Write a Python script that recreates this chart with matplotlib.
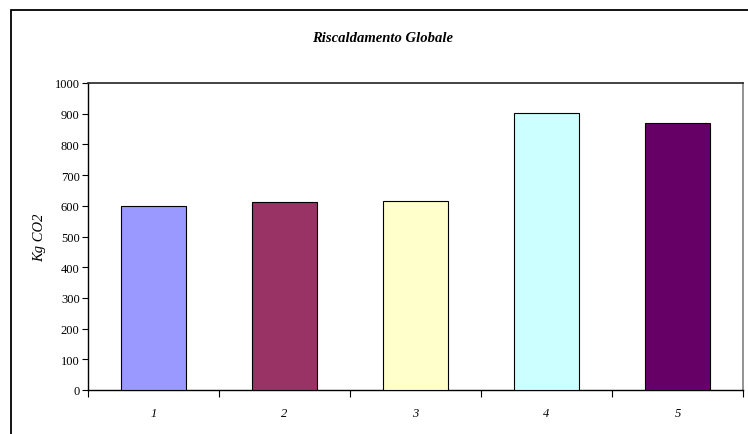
import matplotlib
matplotlib.use("Agg")
import matplotlib.pyplot as plt
from matplotlib.patches import Rectangle

categories = ["1", "2", "3", "4", "5"]
values = [600, 611, 617, 902, 870]
colors = ["#9999FF", "#993366", "#FFFFCC", "#CCFFFF", "#660066"]
yticks = [0, 100, 200, 300, 400, 500, 600, 700, 800, 900, 1000]

W, H = 748, 435
fig = plt.figure(figsize=(W / 100, H / 100), dpi=100)
fig.patch.set_facecolor("white")

# outer chart frame (runs off the right and bottom edges)
fig.add_artist(Rectangle((11 / W, -0.05), 1.2, (H - 10.5) / H + 0.05,
                         transform=fig.transFigure, fill=False,
                         edgecolor="black", linewidth=1.3))

ax = fig.add_axes([88 / W, (H - 391) / H, 655 / W, 307 / H])
x = list(range(len(categories)))
ax.bar(x, values, width=0.5, color=colors, edgecolor="black", linewidth=0.8,
       zorder=3)

ax.set_xlim(-0.5, len(categories) - 0.5)
ax.set_ylim(0, 1000)
ax.set_yticks(yticks)
ax.set_yticklabels([str(v) for v in yticks], family="Liberation Serif",
                   fontsize=9)
ax.set_xticks([i - 0.5 for i in range(len(categories) + 1)])
ax.set_xticklabels([])
ax.set_xticks(x, minor=True)
ax.set_xticklabels(categories, minor=True, family="Liberation Serif",
                   style="italic", fontsize=9)
ax.tick_params(axis="x", which="major", direction="out", length=5,
               width=0.8, color="black")
ax.tick_params(axis="x", which="minor", length=0, pad=12)
ax.tick_params(axis="y", direction="out", length=4, width=0.8, pad=2)

for side in ("left", "bottom"):
    ax.spines[side].set_color("black")
    ax.spines[side].set_linewidth(1.0)
ax.spines["top"].set_color("#222222")
ax.spines["top"].set_linewidth(1.2)
ax.spines["right"].set_color("#808080")
ax.spines["right"].set_linewidth(1.2)

ax.set_ylabel("Kg CO2", family="Liberation Serif", style="italic",
              fontsize=10.5, labelpad=6)

fig.text(383 / W, 1 - 38 / H, "Riscaldamento Globale",
         family="Liberation Serif", style="italic", weight="bold",
         fontsize=10.5, ha="center", va="center")

fig.savefig("out.png", dpi=100)
